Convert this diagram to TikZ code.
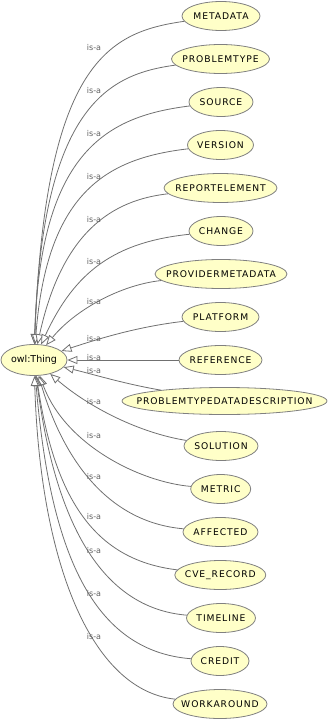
\documentclass[tikz,border=0pt]{standalone}
\usepackage{fontspec}
\setmainfont{DejaVu Sans}
\newfontfamily\clsfont{DejaVu Sans}[LetterSpace=10]
\usetikzlibrary{shapes.geometric,arrows.meta}
\definecolor{nodefill}{RGB}{255,255,200}
\definecolor{nodeline}{RGB}{128,128,128}
\definecolor{edgeline}{RGB}{112,112,112}
\definecolor{labelgray}{RGB}{96,96,96}
\tikzset{
  cls/.style={ellipse, draw=nodeline, line width=0.8pt, fill=nodefill, inner sep=0pt,
    minimum height=29pt, minimum width=#1,
    font=\clsfont\fontsize{9.2pt}{11pt}\selectfont},
  thingnode/.style={ellipse, draw=nodeline, line width=0.8pt, fill=nodefill, inner sep=0pt,
    minimum height=31pt, minimum width=66pt,
    font=\fontsize{9.5pt}{11pt}\selectfont},
  isaedge/.style={draw=edgeline, line width=0.8pt,
    -{Triangle[length=10pt, width=8pt, fill=white]}},
  isalabel/.style={text=labelgray, inner sep=0pt, font=\fontsize{8pt}{10pt}\selectfont}
}
\newcommand{\cname}[1]{\makebox[0pt]{#1}}
\begin{document}
\begin{tikzpicture}[x=1pt, y=-1pt]
  \useasboundingbox (0,0) rectangle (329,727);

  % subclasses
  \node[cls=78pt]  (metadata)  at (221,16)    {\cname{METADATA}};
  \node[cls=98pt]  (ptype)     at (220.5,59)  {\cname{PROBLEMTYPE}};
  \node[cls=64pt]  (source)    at (221,102)   {\cname{SOURCE}};
  \node[cls=66pt]  (version)   at (220.5,145) {\cname{VERSION}};
  \node[cls=113pt] (repelem)   at (220.5,188) {\cname{REPORTELEMENT}};
  \node[cls=64pt]  (change)    at (221,231)   {\cname{CHANGE}};
  \node[cls=132pt] (provmeta)  at (221,274)   {\cname{PROVIDERMETADATA}};
  \node[cls=77pt]  (platform)  at (220.5,317) {\cname{PLATFORM}};
  \node[cls=83pt]  (reference) at (220.5,360) {\cname{REFERENCE}};
  \node[cls=205pt, minimum height=27pt] (ptdd) at (224.5,401) {\cname{PROBLEMTYPEDATADESCRIPTION}};
  \node[cls=74pt]  (solution)  at (221,446)   {\cname{SOLUTION}};
  \node[cls=60pt]  (metric)    at (220.7,489) {\cname{METRIC}};
  \node[cls=75pt]  (affected)  at (220.5,532) {\cname{AFFECTED}};
  \node[cls=91pt]  (cverec)    at (220.3,575) {\cname{CVE\_RECORD}};
  \node[cls=69pt]  (timeline)  at (221,618)   {\cname{TIMELINE}};
  \node[cls=58pt]  (credit)    at (220,661)   {\cname{CREDIT}};
  \node[cls=94pt]  (workaround) at (220,704)  {\cname{WORKAROUND}};

  % root class
  \node[thingnode] (thing) at (34,360) {\makebox[0pt]{owl:Thing}};

  % is-a edges, upper fan
  \draw[isaedge] (metadata)  .. controls (110,32)  and (45,60)   .. (thing);
  \draw[isaedge] (ptype)     .. controls (110,74)  and (42,104)  .. (thing);
  \draw[isaedge] (source)    .. controls (110,116) and (40,148)  .. (thing);
  \draw[isaedge] (version)   .. controls (110,158) and (47,189)  .. (thing);
  \draw[isaedge] (repelem)   .. controls (112,200) and (62,232)  .. (thing);
  \draw[isaedge] (change)    .. controls (115,242) and (75,271)  .. (thing);
  \draw[isaedge] (provmeta)  .. controls (120,285) and (75,310)  .. (thing);
  \draw[isaedge] (platform)  .. controls (135,327) and (95,340)  .. (thing);
  \draw[isaedge] (reference) -- (thing);
  % is-a edges, lower fan
  \draw[isaedge] (ptdd)      .. controls (125,384) and (92,374)  .. (thing);
  \draw[isaedge] (solution)  .. controls (140,433) and (90,408)  .. (thing);
  \draw[isaedge] (metric)    .. controls (140,482) and (65,445)  .. (thing);
  \draw[isaedge] (affected)  .. controls (105,522) and (62,455)  .. (thing);
  \draw[isaedge] (cverec)    .. controls (95,560)  and (55,500)  .. (thing);
  \draw[isaedge] (timeline)  .. controls (100,608) and (55,520)  .. (thing);
  \draw[isaedge] (credit)    .. controls (92,651)  and (50,551)  .. (thing);
  \draw[isaedge] (workaround) .. controls (90,690) and (40,560)  .. (thing);

  % edge labels
  \node[isalabel] (la1)  at (94,47.7)  {is-a};
  \node[isalabel] (la2)  at (94,90.7)  {is-a};
  \node[isalabel] (la3)  at (94,134)   {is-a};
  \node[isalabel] (la4)  at (94,176.7) {is-a};
  \node[isalabel] (la5)  at (94,220)   {is-a};
  \node[isalabel] (la6)  at (94,261.7) {is-a};
  \node[isalabel] (la7)  at (94,301.7) {is-a};
  \node[isalabel] (la8)  at (94,339)   {is-a};
  \node[isalabel] (la9)  at (94,357.3) {is-a};
  \node[isalabel] (la10) at (94,370.7) {is-a};
  \node[isalabel] (la11) at (94,401.7) {is-a};
  \node[isalabel] (la12) at (94,435.7) {is-a};
  \node[isalabel] (la13) at (94,477)   {is-a};
  \node[isalabel] (la14) at (94,516.7) {is-a};
  \node[isalabel] (la15) at (94,551)   {is-a};
  \node[isalabel] (la16) at (94,594)   {is-a};
  \node[isalabel] (la17) at (94,636.7) {is-a};
\end{tikzpicture}
\end{document}
